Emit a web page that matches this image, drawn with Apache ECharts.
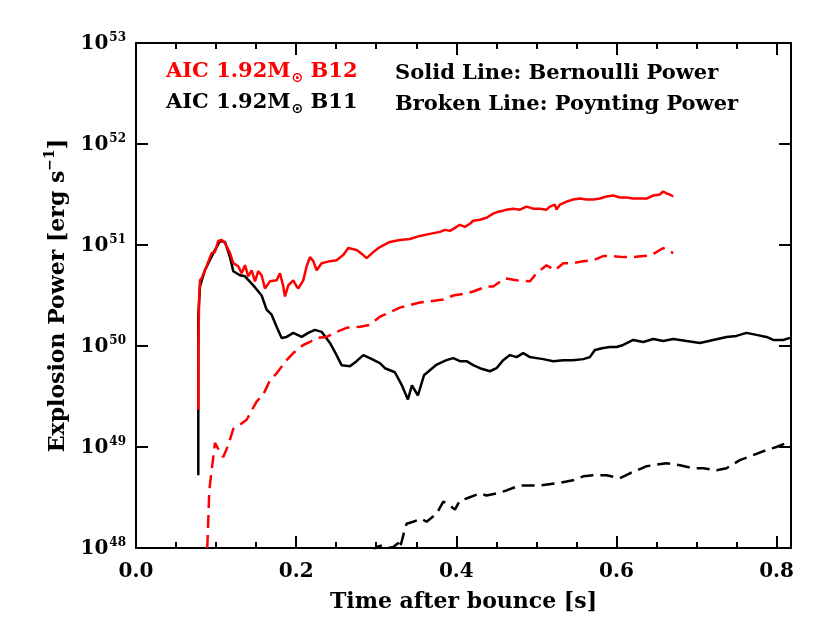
<!DOCTYPE html>
<html>
<head>
<meta charset="utf-8">
<script src="https://cdn.jsdelivr.net/npm/echarts@6/dist/echarts.min.js"></script>
<style>html,body{margin:0;padding:0;background:#fff}#c{width:830px;height:635px}</style>
</head>
<body>
<div id="c"></div>
<script>
// ---- Data (time after bounce [s], log10 of power [erg/s]) ----
const b11SolidTime = [0.0778,0.0778,0.0799,0.0861,0.0965,0.1049,0.1111,0.1174,0.1215,0.1298,0.1361,0.1465,0.1569,0.1631,0.1694,0.1756,0.1819,0.1881,0.1964,0.2069,0.2151,0.2235,0.2318,0.2422,0.2505,0.2568,0.2672,0.2755,0.2838,0.2921,0.3046,0.3109,0.3233,0.3321,0.3396,0.3446,0.3521,0.3596,0.3670,0.3745,0.3795,0.3878,0.3962,0.4045,0.4128,0.4211,0.4295,0.4420,0.4503,0.4586,0.4669,0.4752,0.4836,0.4919,0.5002,0.5086,0.5211,0.5335,0.5459,0.5585,0.5668,0.5731,0.5835,0.5918,0.6002,0.6085,0.6210,0.6335,0.6460,0.6584,0.6709,0.6876,0.7042,0.7208,0.7375,0.7499,0.7624,0.7749,0.7874,0.7958,0.8083,0.8166];
const b11SolidLog = [48.72,50.30,50.59,50.75,50.92,51.04,51.03,50.88,50.74,50.70,50.69,50.60,50.50,50.36,50.31,50.19,50.08,50.09,50.13,50.09,50.13,50.16,50.14,50.03,49.91,49.81,49.80,49.85,49.91,49.88,49.83,49.78,49.74,49.61,49.47,49.61,49.51,49.71,49.76,49.81,49.83,49.86,49.88,49.85,49.85,49.81,49.78,49.75,49.78,49.86,49.91,49.89,49.93,49.89,49.88,49.87,49.85,49.86,49.86,49.87,49.89,49.96,49.98,49.99,49.99,50.01,50.06,50.04,50.07,50.05,50.07,50.05,50.03,50.06,50.09,50.10,50.13,50.11,50.09,50.06,50.06,50.08];

const b11DashTime = [0.2950,0.3005,0.3088,0.3151,0.3213,0.3275,0.3296,0.3346,0.3379,0.3462,0.3566,0.3629,0.3754,0.3838,0.3920,0.3983,0.4045,0.4128,0.4295,0.4378,0.4503,0.4627,0.4794,0.4919,0.5044,0.5252,0.5459,0.5585,0.5710,0.5876,0.6043,0.6168,0.6377,0.6626,0.6793,0.6959,0.7084,0.7250,0.7375,0.7541,0.7707,0.7874,0.7999,0.8124,0.8145];
const b11DashLog = [47.95,48.01,48.03,48.00,48.01,48.05,48.00,48.15,48.24,48.26,48.29,48.26,48.34,48.46,48.42,48.38,48.47,48.49,48.54,48.52,48.54,48.57,48.62,48.62,48.62,48.64,48.67,48.71,48.72,48.72,48.69,48.74,48.81,48.84,48.82,48.79,48.79,48.77,48.79,48.87,48.92,48.97,49.00,49.04,49.08];

const b12SolidTime = [0.0778,0.0779,0.0788,0.0799,0.0820,0.0882,0.0945,0.0986,0.1027,0.1069,0.1111,0.1132,0.1174,0.1215,0.1277,0.1319,0.1361,0.1402,0.1444,0.1486,0.1527,0.1569,0.1610,0.1673,0.1756,0.1798,0.1839,0.1860,0.1902,0.1964,0.2006,0.2027,0.2089,0.2131,0.2172,0.2214,0.2256,0.2318,0.2422,0.2505,0.2588,0.2651,0.2755,0.2838,0.2880,0.2963,0.3046,0.3170,0.3296,0.3420,0.3546,0.3670,0.3795,0.3858,0.3920,0.3983,0.4045,0.4107,0.4170,0.4211,0.4295,0.4378,0.4461,0.4524,0.4586,0.4627,0.4711,0.4794,0.4877,0.4960,0.5044,0.5127,0.5169,0.5231,0.5252,0.5294,0.5377,0.5459,0.5543,0.5626,0.5710,0.5793,0.5876,0.5960,0.6043,0.6127,0.6210,0.6293,0.6377,0.6460,0.6542,0.6584,0.6626,0.6667,0.6709];
const b12SolidLog = [49.37,50.00,50.45,50.65,50.67,50.79,50.92,50.93,51.04,51.05,51.02,51.03,50.92,50.82,50.79,50.72,50.80,50.69,50.75,50.64,50.74,50.70,50.57,50.64,50.65,50.72,50.59,50.49,50.60,50.65,50.59,50.57,50.65,50.79,50.88,50.84,50.75,50.82,50.84,50.85,50.90,50.97,50.95,50.90,50.87,50.93,50.98,51.03,51.05,51.06,51.09,51.11,51.13,51.15,51.14,51.17,51.20,51.18,51.21,51.24,51.25,51.27,51.31,51.33,51.34,51.35,51.36,51.35,51.38,51.36,51.36,51.35,51.38,51.40,51.35,51.40,51.43,51.45,51.46,51.45,51.45,51.46,51.48,51.49,51.47,51.47,51.46,51.46,51.46,51.49,51.50,51.53,51.51,51.50,51.48];

const b12DashTime = [0.0890,0.0903,0.0915,0.0945,0.0986,0.1007,0.1049,0.1090,0.1153,0.1215,0.1298,0.1382,0.1506,0.1590,0.1673,0.1756,0.1881,0.1964,0.2089,0.2172,0.2256,0.2381,0.2505,0.2630,0.2797,0.2921,0.3046,0.3296,0.3546,0.3837,0.3962,0.4128,0.4211,0.4378,0.4461,0.4607,0.4752,0.4919,0.5002,0.5127,0.5231,0.5335,0.5459,0.5585,0.5710,0.5835,0.5960,0.6085,0.6210,0.6335,0.6439,0.6584,0.6709];
const b12DashLog = [48.00,48.28,48.57,48.77,49.04,49.05,48.95,48.90,49.02,49.18,49.22,49.27,49.45,49.52,49.66,49.73,49.86,49.93,50.01,50.04,50.08,50.09,50.14,50.18,50.19,50.21,50.29,50.38,50.43,50.46,50.50,50.52,50.54,50.59,50.59,50.67,50.65,50.64,50.72,50.80,50.75,50.82,50.82,50.84,50.85,50.89,50.89,50.88,50.88,50.89,50.90,50.97,50.92];

const xTicks = [0.0, 0.2, 0.4, 0.6, 0.8];
const yExponents = [48, 49, 50, 51, 52, 53];
const legendLeft = ['AIC 1.92M', 'B12', 'B11'];
const legendRight = ['Solid Line: Bernoulli Power', 'Broken Line: Poynting Power'];

// ---- Build ----
function pairs(t, lg) { return t.map((x, i) => [x, Math.pow(10, lg[i])]); }
const FONT = 'DejaVu Serif';
const chart = echarts.init(document.getElementById('c'), null, {renderer: 'canvas'});
const axisLineStyle = {color: '#000', width: 2};
const yLabelFmt = v => { const e = Math.round(Math.log10(v)); return '{b|10}{s|' + e + '}'; };
const yRich = {
  b: {fontFamily: FONT, fontWeight: 'bold', fontSize: 20, color: '#000', lineHeight: 22, verticalAlign: 'bottom'},
  s: {fontFamily: FONT, fontWeight: 'bold', fontSize: 12, color: '#000', lineHeight: 22, verticalAlign: 'top', padding: [0, 0, 0, 1]}
};
const xMin = 0, xMax = 0.818;
const yMin = Math.pow(10, yExponents[0]), yMax = Math.pow(10, yExponents[yExponents.length - 1]);

function legendText(label, tag, color) {
  return {
    text: '{a|' + label + '}{o|⊙}{a| ' + tag + '}',
    rich: {a: {fontFamily: FONT, fontWeight: 'bold', fontSize: 21, fill: color, lineHeight: 26, verticalAlign: 'bottom'},
           o: {fontFamily: 'DejaVu Sans', fontWeight: 'bold', fontSize: 14, fill: color, lineHeight: 26, verticalAlign: 'bottom', padding: [0, 0, -3, 1]}}
  };
}

const option = {
  animation: false,
  backgroundColor: '#fff',
  grid: {left: 136, top: 43, width: 655, height: 505, show: false},
  xAxis: [{
    type: 'value', min: xMin, max: xMax, interval: xTicks[1] - xTicks[0], position: 'bottom',
    axisLine: {show: true, onZero: false, lineStyle: axisLineStyle},
    axisTick: {show: true, inside: true, length: 12, lineStyle: {color: '#000', width: 2}},
    minorTick: {show: true, splitNumber: 4, length: 6, lineStyle: {color: '#000', width: 2}},
    splitLine: {show: false},
    axisLabel: {margin: 14, fontFamily: FONT, fontWeight: 'bold', fontSize: 20, color: '#000',
      formatter: v => v.toFixed(1), showMaxLabel: false},
    name: 'Time after bounce [s]', nameLocation: 'middle', nameGap: 43,
    nameTextStyle: {fontFamily: FONT, fontWeight: 'bold', fontSize: 22, color: '#000'}
  }, {
    type: 'value', min: xMin, max: xMax, interval: xTicks[1] - xTicks[0], position: 'top',
    axisLine: {show: true, onZero: false, lineStyle: axisLineStyle},
    axisTick: {show: true, inside: true, length: 12, lineStyle: {color: '#000', width: 2}},
    minorTick: {show: true, splitNumber: 4, length: 6, lineStyle: {color: '#000', width: 2}},
    splitLine: {show: false}, axisLabel: {show: false}
  }],
  yAxis: [{
    type: 'log', logBase: 10, min: yMin, max: yMax, interval: 1, position: 'left',
    axisLine: {show: true, onZero: false, lineStyle: axisLineStyle},
    axisTick: {show: true, inside: true, length: 12, lineStyle: {color: '#000', width: 2}},
    minorTick: {show: false}, splitLine: {show: false},
    axisLabel: {margin: 10, formatter: yLabelFmt, rich: yRich},
    name: '{n|Explosion Power [erg s}{p|−1}{n|]}', nameLocation: 'middle', nameGap: 64, nameRotate: 90,
    nameTextStyle: {rich: {
      n: {fontFamily: FONT, fontWeight: 'bold', fontSize: 22, color: '#000', lineHeight: 26, verticalAlign: 'bottom'},
      p: {fontFamily: FONT, fontWeight: 'bold', fontSize: 14, color: '#000', lineHeight: 26, verticalAlign: 'top'}
    }}
  }, {
    type: 'log', logBase: 10, min: yMin, max: yMax, interval: 1, position: 'right',
    axisLine: {show: true, onZero: false, lineStyle: axisLineStyle},
    axisTick: {show: true, inside: true, length: 12, lineStyle: {color: '#000', width: 2}},
    splitLine: {show: false}, axisLabel: {show: false}
  }],
  graphic: [
    {type: 'text', left: 166, top: 61, style: legendText(legendLeft[0], legendLeft[1], '#ff0000')},
    {type: 'text', left: 166, top: 92, style: legendText(legendLeft[0], legendLeft[2], '#000')},
    {type: 'text', left: 395, top: 63, style: {text: legendRight[0], font: 'bold 21px "DejaVu Serif"', fill: '#000'}},
    {type: 'text', left: 395, top: 94, style: {text: legendRight[1], font: 'bold 21px "DejaVu Serif"', fill: '#000'}}
  ],
  series: [
    {type: 'line', name: 'B11 Bernoulli', data: pairs(b11SolidTime, b11SolidLog), showSymbol: false, clip: true,
     lineStyle: {color: '#000', width: 2.5}},
    {type: 'line', name: 'B11 Poynting', data: pairs(b11DashTime, b11DashLog), showSymbol: false, clip: true,
     lineStyle: {color: '#000', width: 2.5, type: [13, 7]}},
    {type: 'line', name: 'B12 Bernoulli', data: pairs(b12SolidTime, b12SolidLog), showSymbol: false, clip: true,
     lineStyle: {color: '#ff0000', width: 2.5}},
    {type: 'line', name: 'B12 Poynting', data: pairs(b12DashTime, b12DashLog), showSymbol: false, clip: true,
     lineStyle: {color: '#ff0000', width: 2.5, type: [13, 7]}}
  ]
};
chart.setOption(option);
</script>
</body>
</html>
